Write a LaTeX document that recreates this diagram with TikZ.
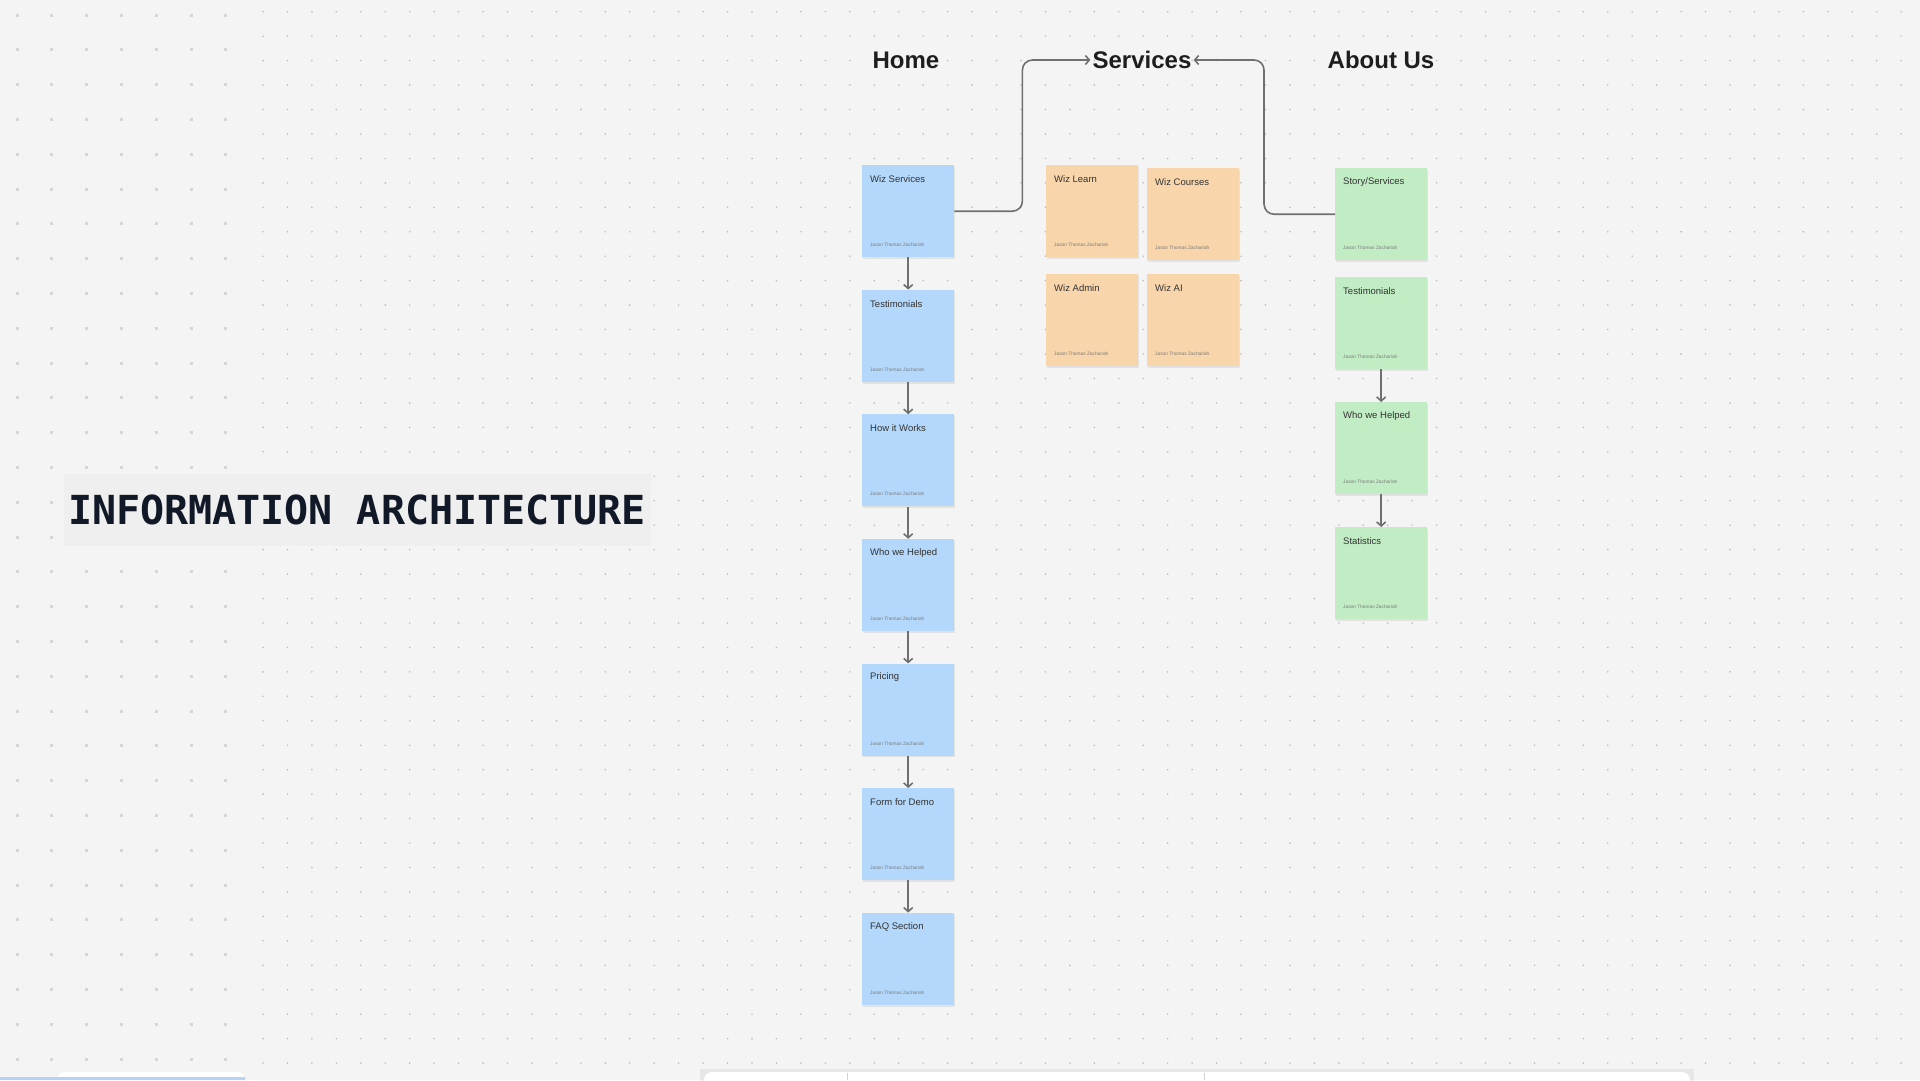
\documentclass[tikz,border=0pt]{standalone}
\usepackage{fontspec}
\setmainfont{Liberation Sans}
\newfontfamily\titlemono{DejaVu Sans Mono}
\usetikzlibrary{arrows.meta,calc}
\definecolor{bgc}{HTML}{F4F4F4}
\definecolor{titlebg}{HTML}{EFEFEF}
\definecolor{titleink}{HTML}{111827}
\definecolor{headink}{HTML}{1E1E1E}
\definecolor{noteblue}{HTML}{B3D8FC}
\definecolor{noteorange}{HTML}{F8D5AA}
\definecolor{notegreen}{HTML}{C1ECC4}
\definecolor{noteink}{HTML}{333333}
\definecolor{authorink}{HTML}{7A7A7A}
\definecolor{connc}{HTML}{707070}
\definecolor{dotsmall}{HTML}{BDBDBD}
\definecolor{dotbig}{HTML}{D6D6D6}
\definecolor{stripblue}{HTML}{B3D4F5}
\newcommand\mknote[5]{%
  \fill[black,opacity=0.07] (#2+1,#3+2) rectangle ++(92,92);
  \node[notebox,fill=#4] (#1) at (#2,#3) {};
  \node[notetitle] (#1-t) at ($(#1.north west)+(8,14)$) {#5};
  \node[noteauthor] (#1-a) at ($(#1.north west)+(8,80)$) {Jason Thomas Zachariah};
}
\begin{document}
\begin{tikzpicture}[x=1pt,y=-1pt,
  notebox/.style={rectangle,minimum width=92pt,minimum height=92pt,inner sep=0pt,anchor=north west,draw=none},
  notetitle/.style={anchor=west,inner sep=0pt,text=noteink,font=\fontsize{9.5}{11}\selectfont},
  noteauthor/.style={anchor=west,inner sep=0pt,text=authorink,font=\fontsize{4.8}{6}\selectfont},
  heading/.style={inner sep=2pt,text=headink,font=\fontsize{24}{28}\selectfont\bfseries},
  conn/.style={draw=connc,line width=1.6pt,-{Straight Barb[length=4pt,width=9pt]}}]
\useasboundingbox (0,0) rectangle (1920,1080);
\fill[bgc] (0,0) rectangle (1920,1080);
% dot grids
\foreach \i in {0,...,6}{\foreach \j in {0,...,30}{
  \fill[dotbig] (17+34.8*\i-1.5,15+34.8*\j-1.5) rectangle ++(3,3);}}
\foreach \i in {0,...,67}{\foreach \j in {0,...,44}{
  \fill[dotsmall] (263+24.45*\i,11.7+24.45*\j) circle (0.9);}}
% title
\fill[titlebg] (64,474) rectangle (651,546);
\node[inner sep=0pt,text=titleink,font=\titlemono\bfseries\fontsize{40}{48}\selectfont] (title) at (357,510) {INFORMATION ARCHITECTURE};
% headings
\node[heading] (home) at (906,60) {Home};
\node[heading] (services) at (1142,60) {Services};
\node[heading] (about) at (1381,60) {About Us};
% home column
\mknote{b1}{862}{165}{noteblue}{Wiz Services}
\mknote{b2}{862}{289.6}{noteblue}{Testimonials}
\mknote{b3}{862}{414.2}{noteblue}{How it Works}
\mknote{b4}{862}{538.8}{noteblue}{Who we Helped}
\mknote{b5}{862}{663.4}{noteblue}{Pricing}
\mknote{b6}{862}{788}{noteblue}{Form for Demo}
\mknote{b7}{862}{912.6}{noteblue}{FAQ Section}
% services
\mknote{o1}{1046}{165}{noteorange}{Wiz Learn}
\mknote{o2}{1147}{168}{noteorange}{Wiz Courses}
\mknote{o3}{1046}{274}{noteorange}{Wiz Admin}
\mknote{o4}{1147}{274}{noteorange}{Wiz AI}
% about
\mknote{g1}{1335}{168}{notegreen}{Story/Services}
\mknote{g2}{1335}{277}{notegreen}{Testimonials}
\mknote{g3}{1335}{402}{notegreen}{Who we Helped}
\mknote{g4}{1335}{527}{notegreen}{Statistics}
% connectors
\draw[conn,rounded corners=10pt] (b1.east) -- ++(68,0) |- (services.west);
\draw[conn,rounded corners=10pt] (g1.west) -- ++(-71,0) |- (services.east);
\draw[conn] (b1.south) -- (b2.north);
\draw[conn] (b2.south) -- (b3.north);
\draw[conn] (b3.south) -- (b4.north);
\draw[conn] (b4.south) -- (b5.north);
\draw[conn] (b5.south) -- (b6.north);
\draw[conn] (b6.south) -- (b7.north);
\draw[conn] (g2.south) -- (g3.north);
\draw[conn] (g3.south) -- (g4.north);
% bottom UI chrome
\fill[black,opacity=0.05] (700,1069) rectangle (1694,1090);
\fill[white,rounded corners=8pt] (704,1072) rectangle (1690,1100);
\draw[gray!35,line width=0.8pt] (847,1073) -- (847,1080);
\draw[gray!35,line width=0.8pt] (1204,1073) -- (1204,1080);
\fill[white,rounded corners=8pt] (57,1072) rectangle (245,1100);
\fill[stripblue] (0,1077) rectangle (245,1080);
\end{tikzpicture}
\end{document}
